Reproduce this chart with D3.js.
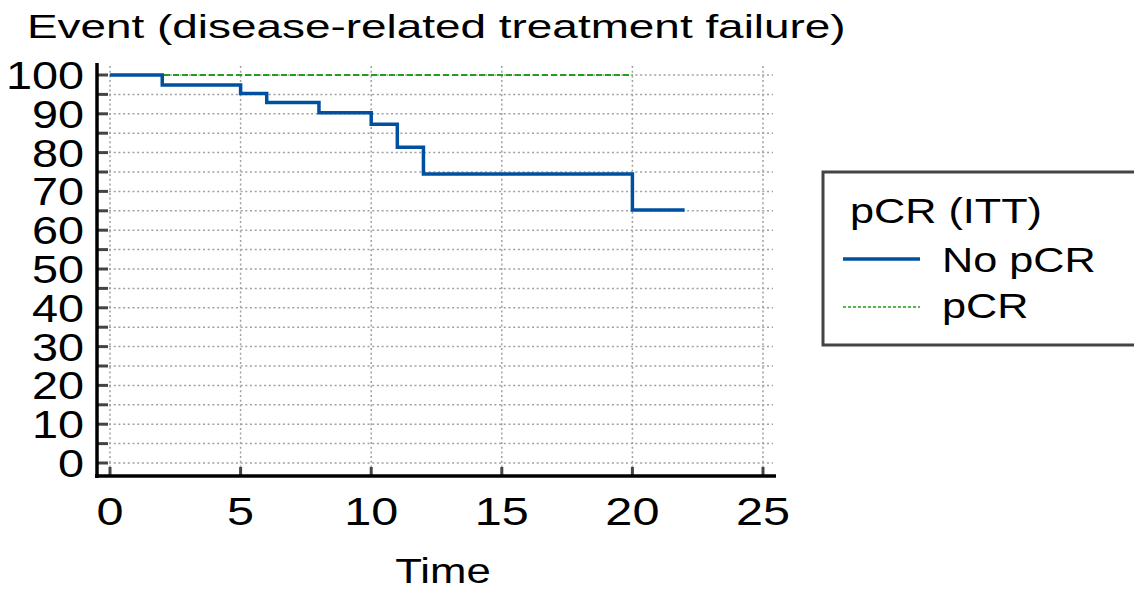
<!DOCTYPE html>
<html>
<head>
<meta charset="utf-8">
<script src="https://cdn.jsdelivr.net/npm/d3@7"></script>
<style>
  body { margin: 0; background: #fff; }
  text { font-family: "Liberation Sans", Arial, sans-serif; fill: #000; }
</style>
</head>
<body>
<div id="chart"></div>
<script>
// data
const noPcrTime = [0, 2, 5, 6, 8, 10, 11, 12, 20, 22];
const noPcrSurv = [100, 97.4, 95.2, 92.9, 90.3, 87.3, 81.4, 74.5, 65.2, 65.2];
const pcrTime = [0, 20];
const pcrSurv = [100, 100];
const seriesNames = ["No pCR", "pCR"];
const xTicks = [0, 5, 10, 15, 20, 25];
const yLabels = [0, 10, 20, 30, 40, 50, 60, 70, 80, 90, 100];
const yGrid = d3.range(0, 101, 5);

const W = 1134, H = 592;
const svg = d3.select("#chart").append("svg").attr("width", W).attr("height", H);

const x = d3.scaleLinear().domain([0, 25]).range([110, 763]);
const y = d3.scaleLinear().domain([0, 100]).range([463, 75]);

const blue = "#0050a0";
const green = "#1f9e1f";
const axisY = 476, axisX = 97;

// text with horizontal stretch like the original
function label(g, str, tx, ty, size, sx, anchor) {
    return g.append("text")
        .attr("transform", `translate(${tx},${ty}) scale(${sx},1)`)
        .attr("text-anchor", anchor || "start")
        .style("font-size", size + "px")
        .text(str);
}

// grid
const grid = svg.append("g");
grid.selectAll(".hg").data(yGrid).enter().append("line")
    .attr("x1", 109).attr("x2", 773)
    .attr("y1", d => y(d)).attr("y2", d => y(d))
    .style("stroke", "#a0a0a0").style("stroke-width", 1.5).style("stroke-dasharray", "2,2.7");
grid.selectAll(".vg").data(xTicks).enter().append("line")
    .attr("x1", d => x(d)).attr("x2", d => x(d))
    .attr("y1", 66).attr("y2", axisY)
    .style("stroke", "#a0a0a0").style("stroke-width", 1.5).style("stroke-dasharray", "2,2.7");

// ticks (inside)
svg.selectAll(".yt").data(yGrid).enter().append("line")
    .attr("x1", axisX).attr("x2", axisX + 11)
    .attr("y1", d => y(d)).attr("y2", d => y(d))
    .style("stroke", "#444").style("stroke-width", 3);
svg.selectAll(".xt").data(xTicks).enter().append("line")
    .attr("x1", d => x(d)).attr("x2", d => x(d))
    .attr("y1", axisY).attr("y2", axisY - 9)
    .style("stroke", "#444").style("stroke-width", 3);

// axis lines
svg.append("line").attr("x1", axisX).attr("x2", axisX).attr("y1", 63).attr("y2", axisY + 2)
    .style("stroke", "#000").style("stroke-width", 3.5);
svg.append("line").attr("x1", axisX - 2).attr("x2", 776).attr("y1", axisY).attr("y2", axisY)
    .style("stroke", "#000").style("stroke-width", 3.5);

// tick labels
yLabels.forEach(v => label(svg, v, 84, y(v) + 14, 39, 1.2, "end"));
xTicks.forEach(v => label(svg, v, x(v), 525, 38, 1.28, "middle"));

// titles
label(svg, "Event (disease-related treatment failure)", 27, 38, 34, 1.35);
label(svg, "Time", 443, 583, 35, 1.25, "middle");

// curves
const line = d3.line().x(d => x(d[0])).y(d => y(d[1])).curve(d3.curveStepAfter);
svg.append("path").datum(d3.zip(pcrTime, pcrSurv)).attr("d", line)
    .style("fill", "none").style("stroke", green).style("stroke-width", 1.8).style("stroke-dasharray", "6,3");
svg.append("path").datum(d3.zip(noPcrTime, noPcrSurv)).attr("d", line)
    .style("fill", "none").style("stroke", blue).style("stroke-width", 3.5);

// legend
const lg = svg.append("g");
lg.append("rect").attr("x", 823).attr("y", 172).attr("width", 320).attr("height", 173)
    .style("fill", "#fff").style("stroke", "#444").style("stroke-width", 3);
label(lg, "pCR (ITT)", 850, 223, 36, 1.2);
lg.append("line").attr("x1", 843).attr("x2", 920).attr("y1", 259).attr("y2", 259)
    .style("stroke", blue).style("stroke-width", 3.5);
label(lg, seriesNames[0], 942, 272, 36, 1.2);
lg.append("line").attr("x1", 843).attr("x2", 920).attr("y1", 307).attr("y2", 307)
    .style("stroke", green).style("stroke-width", 1.5).style("stroke-dasharray", "3,2");
label(lg, seriesNames[1], 942, 318, 36, 1.2);
</script>
</body>
</html>
